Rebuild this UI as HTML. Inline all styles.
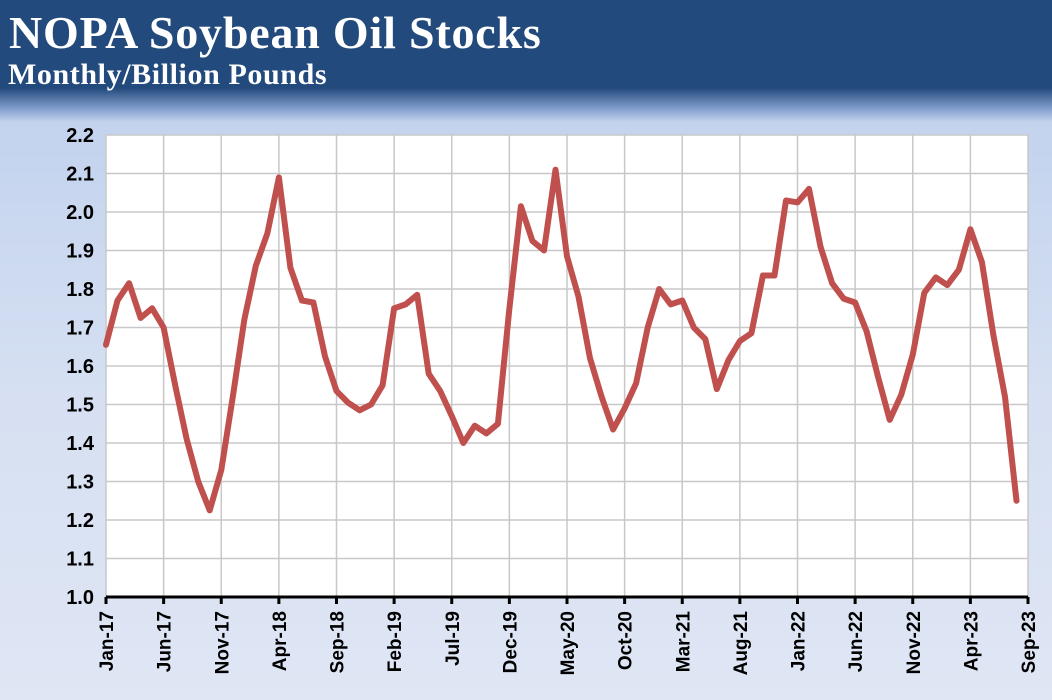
<!DOCTYPE html>
<html><head><meta charset="utf-8"><style>
html,body{margin:0;padding:0}
body{width:1052px;height:700px;overflow:hidden;position:relative;background:linear-gradient(180deg,#234a7c 0px,#234a7c 88px,#7e9ccb 108px,#c3d3ee 122px,#d6e0f2 400px,#dfe6f4 700px);font-family:"Liberation Sans",sans-serif}
#title{position:absolute;left:9px;top:6px;font:bold 46px "Liberation Serif",serif;color:#fff;letter-spacing:0.8px}
#sub{position:absolute;left:8px;top:58px;font:bold 30px "Liberation Serif",serif;color:#fff;letter-spacing:0.6px}
svg{position:absolute;left:0;top:0}
</style></head><body>
<div id="title">NOPA Soybean Oil Stocks</div>
<div id="sub">Monthly/Billion Pounds</div>
<svg id="chart" width="1052" height="700"></svg>
<script>
const values=[1.655,1.77,1.815,1.725,1.75,1.70,1.55,1.41,1.30,1.225,1.33,1.52,1.72,1.86,1.945,2.09,1.855,1.77,1.765,1.625,1.535,1.505,1.485,1.50,1.55,1.75,1.76,1.785,1.58,1.535,1.47,1.40,1.445,1.425,1.45,1.75,2.015,1.925,1.90,2.11,1.885,1.78,1.62,1.52,1.435,1.49,1.555,1.70,1.80,1.76,1.77,1.70,1.67,1.54,1.615,1.665,1.685,1.835,1.835,2.03,2.025,2.06,1.91,1.815,1.775,1.765,1.69,1.57,1.46,1.525,1.63,1.79,1.83,1.81,1.85,1.955,1.87,1.68,1.52,1.25];
const xTickLabels=["Jan-17","Jun-17","Nov-17","Apr-18","Sep-18","Feb-19","Jul-19","Dec-19","May-20","Oct-20","Mar-21","Aug-21","Jan-22","Jun-22","Nov-22","Apr-23","Sep-23"];
const yTicks=[1.0,1.1,1.2,1.3,1.4,1.5,1.6,1.7,1.8,1.9,2.0,2.1,2.2];
const NS="http://www.w3.org/2000/svg";
const svg=document.getElementById('chart');
const L=106,R=1028,T=135,B=597,months=80;
const x=i=>L+(R-L)*i/months;
const y=v=>B-(v-1.0)/(1.2)*(B-T);
function mk(t,a,p){const e=document.createElementNS(NS,t);for(const k in a)e.setAttribute(k,a[k]);(p||svg).appendChild(e);return e;}
const plot=mk('rect',{x:L,y:T,width:R-L,height:B-T,fill:'#fff',stroke:'#c8c8c8'});


yTicks.forEach(v=>{
  const g=mk('line',{x1:L,x2:R,y1:y(v),y2:y(v),stroke:'#c8c8c8','stroke-width':1.5});
  
  
  const t=mk('text',{x:L-12,y:y(v)+7,'text-anchor':'end','font-size':20,'font-weight':'bold',fill:'#000'});
  t.textContent=v.toFixed(1);
  
  
});
xTickLabels.forEach((lab,k)=>{
  const xi=x(k*5);
  const g=mk('line',{x1:xi,x2:xi,y1:T,y2:B,stroke:'#c8c8c8','stroke-width':1.5});
  
  
  const tk=mk('line',{x1:xi,x2:xi,y1:B,y2:B+7,stroke:'#000','stroke-width':3});
  
  
  const t=mk('text',{x:0,y:0,'text-anchor':'end','font-size':19,'font-weight':'bold',fill:'#000',transform:`translate(${xi+7},${B+14}) rotate(-90)`});
  t.textContent=lab;
  
  
});
const ax=mk('line',{x1:L,x2:R,y1:B,y2:B,stroke:'#000','stroke-width':3});


const d=values.map((v,i)=>(i?'L':'M')+x(i).toFixed(1)+','+y(v).toFixed(1)).join(' ');
const line=mk('path',{d:d,fill:'none',stroke:'#c0504d','stroke-width':6,'stroke-linejoin':'round','stroke-linecap':'round'});


</script>
</body></html>
